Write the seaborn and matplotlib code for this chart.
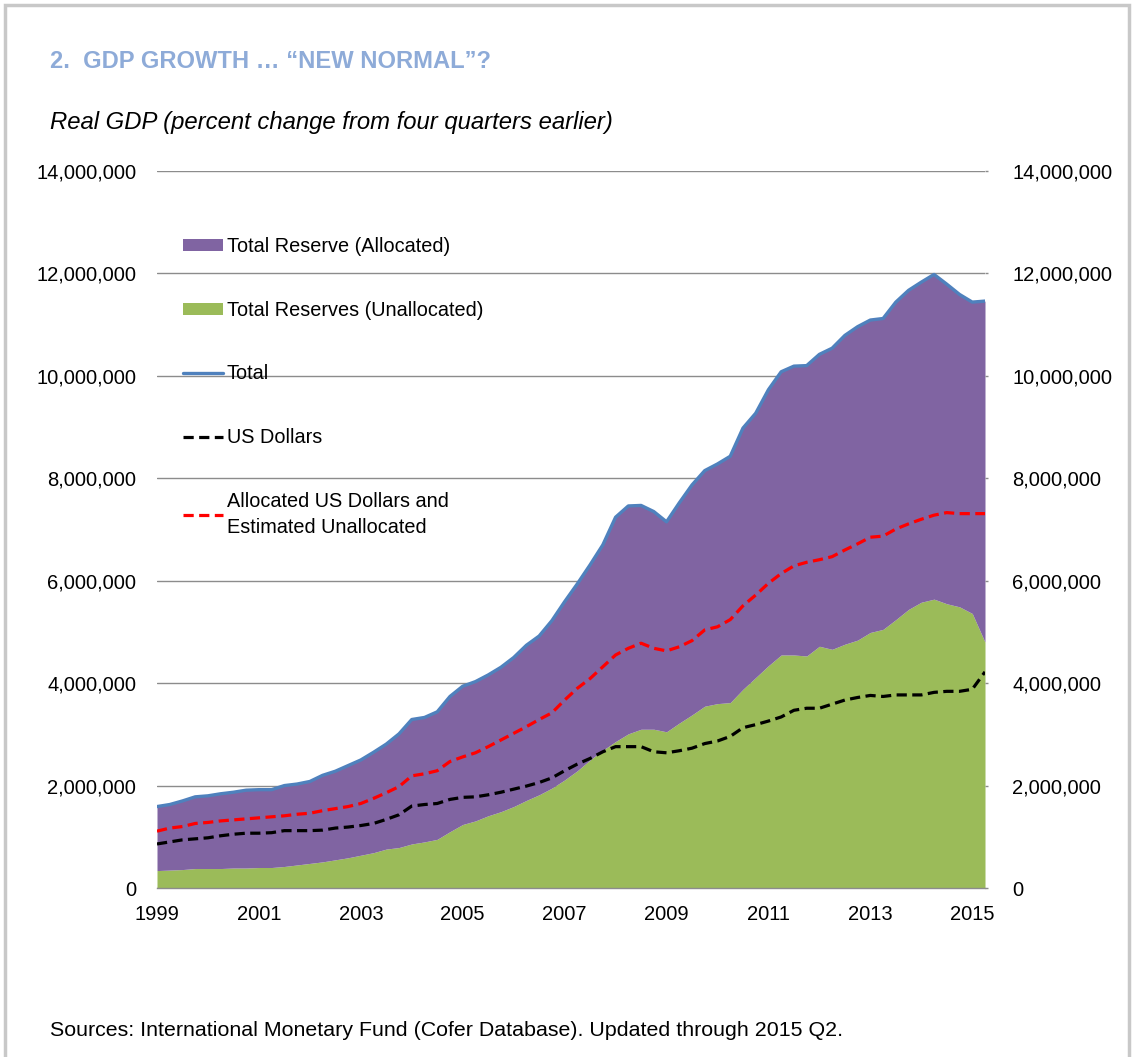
import numpy as np
import pandas as pd
import matplotlib
matplotlib.use("Agg")
import matplotlib.pyplot as plt
import seaborn as sns
from matplotlib.patches import Patch, Rectangle
from matplotlib.lines import Line2D
from matplotlib.ticker import FuncFormatter

# ---------------- data (millions) ----------------
quarters = [f"{y}Q{q}" for y in range(1999, 2016) for q in range(1, 5)][:66]  # 1999Q1 .. 2015Q2

total = [1.59, 1.63, 1.70, 1.78, 1.80, 1.84, 1.87, 1.91, 1.92, 1.92,
         2.00, 2.03, 2.08, 2.20, 2.28, 2.39, 2.50, 2.65, 2.81, 3.01,
         3.29, 3.33, 3.44, 3.74, 3.94, 4.03, 4.16, 4.31, 4.50, 4.74,
         4.92, 5.22, 5.59, 5.94, 6.31, 6.70, 7.24, 7.46, 7.47, 7.35,
         7.15, 7.52, 7.87, 8.15, 8.28, 8.43, 8.98, 9.27, 9.73, 10.08,
         10.19, 10.20, 10.42, 10.54, 10.79, 10.96, 11.09, 11.12, 11.44, 11.67,
         11.83, 11.98, 11.79, 11.59, 11.44, 11.46]

unallocated = [0.34, 0.35, 0.36, 0.38, 0.38, 0.38, 0.39, 0.39, 0.40, 0.40,
               0.42, 0.45, 0.48, 0.51, 0.55, 0.59, 0.64, 0.69, 0.76, 0.79,
               0.86, 0.90, 0.95, 1.10, 1.24, 1.31, 1.41, 1.49, 1.59, 1.71,
               1.82, 1.95, 2.11, 2.29, 2.50, 2.69, 2.86, 3.01, 3.10, 3.10,
               3.05, 3.22, 3.38, 3.55, 3.60, 3.62, 3.88, 4.11, 4.34, 4.55,
               4.55, 4.53, 4.72, 4.66, 4.76, 4.84, 4.99, 5.05, 5.24, 5.44,
               5.58, 5.64, 5.55, 5.49, 5.36, 4.80]

us_dollars = [0.86, 0.90, 0.94, 0.96, 0.98, 1.02, 1.05, 1.07, 1.07, 1.08,
              1.12, 1.12, 1.12, 1.13, 1.17, 1.19, 1.22, 1.26, 1.34, 1.43,
              1.60, 1.63, 1.65, 1.73, 1.77, 1.78, 1.82, 1.87, 1.93, 1.99,
              2.06, 2.15, 2.29, 2.42, 2.53, 2.66, 2.76, 2.76, 2.76, 2.66,
              2.64, 2.68, 2.73, 2.82, 2.87, 2.96, 3.13, 3.19, 3.26, 3.34,
              3.47, 3.51, 3.51, 3.59, 3.67, 3.72, 3.76, 3.74, 3.77, 3.77,
              3.77, 3.82, 3.84, 3.84, 3.88, 4.22]

alloc_usd_est = [1.11, 1.17, 1.20, 1.26, 1.28, 1.31, 1.33, 1.35, 1.37, 1.39,
                 1.41, 1.44, 1.46, 1.51, 1.55, 1.59, 1.65, 1.75, 1.86, 1.98,
                 2.19, 2.23, 2.29, 2.47, 2.56, 2.64, 2.76, 2.89, 3.02, 3.15,
                 3.29, 3.42, 3.67, 3.90, 4.09, 4.32, 4.55, 4.68, 4.78, 4.68,
                 4.63, 4.71, 4.83, 5.04, 5.10, 5.24, 5.51, 5.72, 5.95, 6.14,
                 6.29, 6.36, 6.41, 6.47, 6.60, 6.72, 6.85, 6.87, 7.01, 7.11,
                 7.20, 7.28, 7.33, 7.31, 7.31, 7.31]

x_tick_labels = ["1999", "2001", "2003", "2005", "2007", "2009", "2011", "2013", "2015"]
y_ticks = [0, 2_000_000, 4_000_000, 6_000_000, 8_000_000, 10_000_000, 12_000_000, 14_000_000]

legend_labels = ["Total Reserve (Allocated)", "Total Reserves (Unallocated)", "Total",
                 "US Dollars", "Allocated US Dollars and\nEstimated Unallocated"]

title = "2.  GDP GROWTH \u2026 \u201cNEW NORMAL\u201d?"
subtitle = "Real GDP (percent change from four quarters earlier)"
source = "Sources: International Monetary Fund (Cofer Database). Updated through 2015 Q2."

# ---------------- build table ----------------
df = pd.DataFrame({
    "quarter": quarters,
    "t": [int(q[:4]) + (int(q[-1]) - 1) / 4 for q in quarters],
    "total": np.array(total) * 1e6,
    "unallocated": np.array(unallocated) * 1e6,
    "usd": np.array(us_dollars) * 1e6,
    "alloc_usd_est": np.array(alloc_usd_est) * 1e6,
})
df["allocated"] = df["total"] - df["unallocated"]

# ---------------- style ----------------
sns.set_theme(style="white")
plt.rcParams["font.family"] = ["Liberation Sans", "DejaVu Sans"]
plt.rcParams["text.color"] = "black"

PURPLE = "#8064A2"
GREEN = "#9BBB59"
BLUE = "#4F81BD"
GRID = "#8C8C8C"
TITLE_BLUE = "#8EABD8"
DASH = (0, (3.2, 1.7))
TICK_FS = 14.5

W, H = 1134, 1057
fig = plt.figure(figsize=(W / 100, H / 100), dpi=100)
fig.patch.set_facecolor("white")

left, right, bottom_px, top_px = 157, 985, 888, 171
ax = fig.add_axes([left / W, 1 - bottom_px / H, (right - left) / W, (bottom_px - top_px) / H])

# areas
ax.stackplot(df["t"], df["unallocated"], df["allocated"], colors=[GREEN, PURPLE], linewidth=0, zorder=2)
# lines
sns.lineplot(data=df, x="t", y="total", ax=ax, color=BLUE, linewidth=2.4, zorder=4)
sns.lineplot(data=df, x="t", y="usd", ax=ax, color="black", linewidth=2.3, zorder=5)
sns.lineplot(data=df, x="t", y="alloc_usd_est", ax=ax, color="#FF0000", linewidth=2.3, zorder=5)
ax.lines[1].set_linestyle(DASH)
ax.lines[2].set_linestyle(DASH)

ax.set_xlim(df["t"].iloc[0], df["t"].iloc[-1])
ax.set_ylim(0, 14_000_000)
ax.set_xticks([int(s) for s in x_tick_labels])
ax.set_xticklabels(x_tick_labels)
ax.set_yticks(y_ticks)
fmt = FuncFormatter(lambda v, p: f"{v:,.0f}")
ax.yaxis.set_major_formatter(fmt)
ax.set_xlabel("")
ax.set_ylabel("")
ax.grid(axis="y", color=GRID, linewidth=1.0, zorder=1)
ax.set_axisbelow(True)
for s in ["top", "right", "left"]:
    ax.spines[s].set_visible(False)
ax.spines["bottom"].set_color(GRID)
ax.spines["bottom"].set_linewidth(1.0)
ax.spines["bottom"].set_zorder(6)
ax.tick_params(axis="y", length=0, pad=15, labelsize=TICK_FS, labelcolor="black")
ax.tick_params(axis="x", length=0, pad=12.5, labelsize=TICK_FS, labelcolor="black")

ax2 = ax.twinx()
ax2.set_ylim(ax.get_ylim())
ax2.set_yticks(y_ticks)
ax2.yaxis.set_major_formatter(fmt)
for s in ["top", "right", "left", "bottom"]:
    ax2.spines[s].set_visible(False)
ax2.tick_params(axis="y", length=2, width=1, color=GRID, pad=17.5, labelsize=TICK_FS, labelcolor="black")
ax2.grid(False)

# legend
handles = [Patch(facecolor=PURPLE, edgecolor="none"),
           Patch(facecolor=GREEN, edgecolor="none"),
           Line2D([], [], color=BLUE, linewidth=2.4),
           Line2D([], [], color="black", linewidth=2.3, linestyle=DASH),
           Line2D([], [], color="#FF0000", linewidth=2.3, linestyle=DASH)]
leg = ax.legend(handles, legend_labels, loc="upper left",
                bbox_to_anchor=(183 / W, 1 - 237 / H), bbox_transform=fig.transFigure,
                frameon=False, fontsize=14.3, labelspacing=2.25, handlelength=2.0,
                handleheight=0.55, handletextpad=0.2, borderaxespad=0, borderpad=0)
for t in leg.get_texts():
    t.set_linespacing(1.45)
    t.set_color("black")
leg.set_zorder(10)

# titles and source
fig.text(50 / W, 1 - 62 / H, title, color=TITLE_BLUE, fontsize=17.1, fontweight="bold", va="center", ha="left")
fig.text(50 / W, 1 - 123 / H, subtitle, color="black", fontsize=17.2, fontstyle="italic", va="center", ha="left")
fig.text(50 / W, 1 - 1031 / H, source, color="black", fontsize=15.4, va="center", ha="left")

# outer frame
fig.patches.append(Rectangle((5 / W, -0.01), 1 - 10 / W, 1.01 - 5 / H, transform=fig.transFigure,
                             fill=False, edgecolor="#C8C8C8", linewidth=2.5))

fig.savefig("out.png", dpi=100, facecolor="white")
